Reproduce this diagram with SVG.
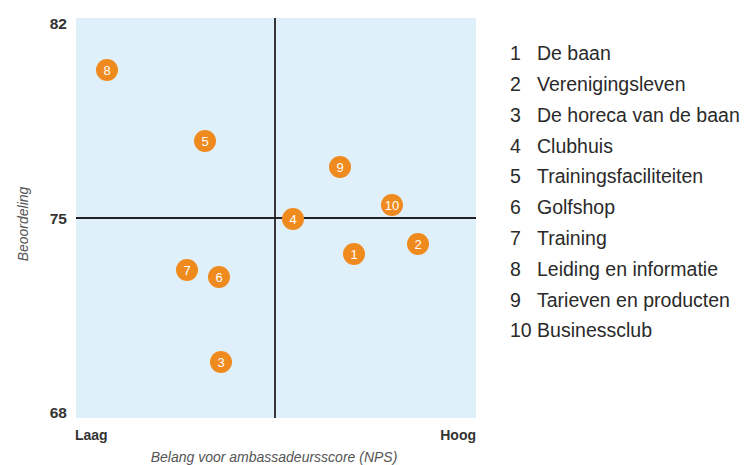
<svg xmlns="http://www.w3.org/2000/svg" width="745" height="465" viewBox="0 0 745 465">
<style>
.tick{font-family:"Liberation Sans",Arial,sans-serif;font-weight:bold;font-size:15.5px;fill:#333}
.lh{font-family:"Liberation Sans",Arial,sans-serif;font-weight:bold;font-size:14px;fill:#333}
.ax{font-family:"Liberation Sans",Arial,sans-serif;font-style:italic;font-size:14px;fill:#555}
.pt circle{fill:#EF8A1E}
.pt text{font-family:"Liberation Sans",Arial,sans-serif;font-size:13px;fill:#fff;text-anchor:middle}
.leg{font-family:"Liberation Sans",Arial,sans-serif;font-size:19.5px;fill:#2a2a2a}
</style>
<rect x="76" y="18" width="400" height="400" fill="#E0F0FB"/>
<g id="connectors" stroke="#222" stroke-width="1.8">
<line x1="76" y1="218" x2="476" y2="218"/>
<line x1="275" y1="18" x2="275" y2="418"/>
</g>
<text class="tick" x="67" y="29" text-anchor="end">82</text>
<text class="tick" x="67" y="224" text-anchor="end">75</text>
<text class="tick" x="67" y="418" text-anchor="end">68</text>
<text class="lh" x="75" y="440">Laag</text>
<text class="lh" x="476" y="440" text-anchor="end">Hoog</text>
<text class="ax" x="274" y="462" text-anchor="middle">Belang voor ambassadeursscore (NPS)</text>
<text class="ax" transform="translate(28,224) rotate(-90)" text-anchor="middle">Beoordeling</text>
<g id="p8" class="pt"><circle cx="107" cy="70" r="11"/><text x="107" y="74.5">8</text></g>
<g id="p5" class="pt"><circle cx="205" cy="141" r="11"/><text x="205" y="145.5">5</text></g>
<g id="p9" class="pt"><circle cx="340" cy="167" r="11"/><text x="340" y="171.5">9</text></g>
<g id="p10" class="pt"><circle cx="392" cy="205" r="11"/><text x="392" y="209.5">10</text></g>
<g id="p4" class="pt"><circle cx="293" cy="219" r="11"/><text x="293" y="223.5">4</text></g>
<g id="p2" class="pt"><circle cx="418" cy="244" r="11"/><text x="418" y="248.5">2</text></g>
<g id="p1" class="pt"><circle cx="354" cy="254" r="11"/><text x="354" y="258.5">1</text></g>
<g id="p7" class="pt"><circle cx="187" cy="270" r="11"/><text x="187" y="274.5">7</text></g>
<g id="p6" class="pt"><circle cx="219" cy="277" r="11"/><text x="219" y="281.5">6</text></g>
<g id="p3" class="pt"><circle cx="221" cy="362" r="11"/><text x="221" y="366.5">3</text></g>
<g id="legend" class="leg">
<text x="510" y="60">1</text><text x="537" y="60">De baan</text>
<text x="510" y="91">2</text><text x="537" y="91">Verenigingsleven</text>
<text x="510" y="121.5">3</text><text x="537" y="121.5">De horeca van de baan</text>
<text x="510" y="152.5">4</text><text x="537" y="152.5">Clubhuis</text>
<text x="510" y="183">5</text><text x="537" y="183">Trainingsfaciliteiten</text>
<text x="510" y="214">6</text><text x="537" y="214">Golfshop</text>
<text x="510" y="245">7</text><text x="537" y="245">Training</text>
<text x="510" y="275.5">8</text><text x="537" y="275.5">Leiding en informatie</text>
<text x="510" y="306.5">9</text><text x="537" y="306.5">Tarieven en producten</text>
<text x="510" y="337">10 Businessclub</text>
</g>
</svg>
